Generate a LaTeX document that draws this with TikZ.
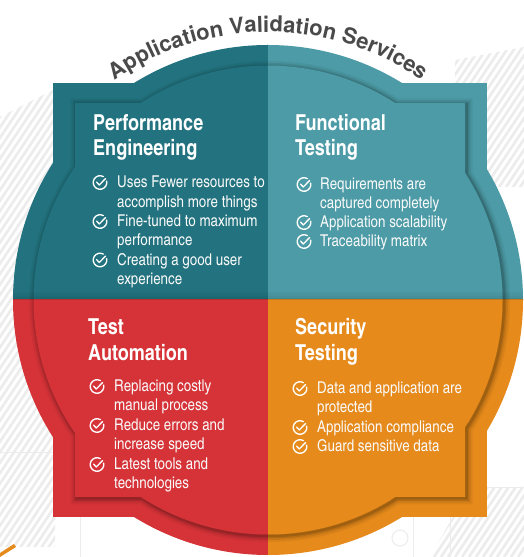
\documentclass[tikz,border=0pt]{standalone}
\usepackage{fontspec}
\setmainfont{texgyreheroscn}[Extension=.otf,UprightFont=*-regular,BoldFont=*-bold]
\newfontfamily\arcfont{texgyreheros}[Extension=.otf,UprightFont=*-bold]
\usetikzlibrary{decorations.text}
\definecolor{perfc}{RGB}{34,115,127}
\definecolor{funcc}{RGB}{76,155,166}
\definecolor{autoc}{RGB}{214,51,56}
\definecolor{secuc}{RGB}{229,138,27}
\definecolor{titlegray}{RGB}{74,74,74}
\definecolor{bgline}{RGB}{236,236,236}
\newcommand\drawquad[2]{%
  \begin{scope}
    \clip #1;
    \fill[#2] (268,257) circle[radius=255];
    \fill[#2] (53,40) rectangle (487,474);
    \foreach \w/\o in {12/0.05,8/0.07,5/0.09,2.5/0.12}
      \draw[black, opacity=\o, line width=\w pt, shift={(1.5,-1.5)}]
        (268,257) circle[radius=234.5] (75,60) rectangle (465,454);
    \fill[#2] (268,257) circle[radius=234.5];
    \fill[#2] (75,60) rectangle (465,454);
  \end{scope}}
\newcommand\hatchpatch[1]{%
  \begin{scope}
    \clip #1;
    \foreach \i in {-420,-413,...,560}
      \draw[bgline, line width=2.6pt] (\i,0) -- ++(372,557);
  \end{scope}}
\tikzset{
  ttl/.style={anchor=base west, inner sep=0pt, text=white,
    font=\fontsize{22}{22}\selectfont\bfseries},
  itm/.style={anchor=base west, inner sep=0pt, text=white!96!gray,
    font=\fontsize{16.3}{16.3}\selectfont},
  chkline/.style={white, line width=1.35pt, line cap=round, line join=round},
  chk/.pic={
    \draw[chkline] (60:6.8) arc[start angle=60, end angle=372, radius=6.8];
    \draw[chkline] (-3.3,0.3) -- (-0.7,-2.5) -- (5.6,4.0);
  }
}
\begin{document}
\begin{tikzpicture}[x=1pt,y=1pt]
\useasboundingbox (0,0) rectangle (524,557);
\fill[white] (0,0) rectangle (524,557);
% background decoration
\hatchpatch{(0,440) -- (55,468) -- (55,10) -- (0,10) -- cycle}
\hatchpatch{(455,497) -- (524,510) -- (524,370) -- (455,370) -- cycle}
\hatchpatch{(470,70) -- (524,70) -- (524,0) -- (430,0) -- cycle}
\draw[bgline, line width=0.8pt] (80,0) -- (80,120) (0,105) -- (80,105)
  (413,0) -- (413,70) (450,0) -- (450,70) (360,70) -- (524,70);
\draw[bgline, line width=1pt] (400,19) circle[radius=8];
\fill[secuc] (0,4) -- (14,13) -- (16,10) -- (0,0) -- cycle;
\begin{scope}
\clip (0,0) rectangle (524,557);
\drawquad{(0,257) rectangle (268,557)}{perfc}
\drawquad{(268,257) rectangle (524,557)}{funcc}
\drawquad{(0,0) rectangle (268,257)}{autoc}
\drawquad{(268,0) rectangle (524,257)}{secuc}
% shadow under the upper half
\begin{scope}
  \clip (268,257) circle[radius=255];
  \clip (0,257) rectangle (524,280);
  \foreach \d/\o in {0/0.12,2/0.08,4/0.05,6/0.03}
    \fill[black, opacity=\o] (0,257+\d) rectangle (524,259+\d);
\end{scope}
\end{scope}
% arc title
\path[decorate, decoration={text along path, text align=center,
  text color=titlegray,
  text={|\fontsize{22}{22}\selectfont\arcfont|Application Validation Services}}]
  (268,257) ++(134:268) arc[start angle=134, end angle=46, radius=268];
% Performance Engineering
\node[ttl] (pe1) at (93,426) {Performance};
\node[ttl] (pe2) at (93,401) {Engineering};
\node[itm] (pa1) at (117,369) {Uses Fewer resources to};
\node[itm] (pa2) at (117,349.5) {accomplish more things};
\node[itm] (pb1) at (117,330) {Fine-tuned to maximum};
\node[itm] (pb2) at (117,311) {performance};
\node[itm] (pc1) at (117,291.5) {Creating a good user};
\node[itm] (pc2) at (117,272) {experience};
\pic at (100,374.5) {chk};
\pic at (100,335.5) {chk};
\pic at (100,297) {chk};
% Functional Testing
\node[ttl] (fe1) at (295,426) {Functional};
\node[ttl] (fe2) at (295,401) {Testing};
\node[itm] (fa1) at (320,367) {Requirements are};
\node[itm] (fa2) at (320,348) {captured completely};
\node[itm] (fb1) at (320,329) {Application scalability};
\node[itm] (fc1) at (320,310) {Traceability matrix};
\pic at (304,372.5) {chk};
\pic at (304,334.5) {chk};
\pic at (304,315.5) {chk};
% Test Automation
\node[ttl] (te1) at (88,222) {Test};
\node[ttl] (te2) at (88,196) {Automation};
\node[itm] (ta1) at (114,165) {Replacing costly};
\node[itm] (ta2) at (114,146) {manual process};
\node[itm] (tb1) at (114,126) {Reduce errors and};
\node[itm] (tb2) at (114,107) {increase speed};
\node[itm] (tc1) at (114,87) {Latest tools and};
\node[itm] (tc2) at (114,68) {technologies};
\pic at (97,170.5) {chk};
\pic at (97,131.5) {chk};
\pic at (97,92.5) {chk};
% Security Testing
\node[ttl] (se1) at (295,222) {Security};
\node[ttl] (se2) at (295,196) {Testing};
\node[itm] (sa1) at (317,163) {Data and application are};
\node[itm] (sa2) at (317,144) {protected};
\node[itm] (sb1) at (317,124) {Application compliance};
\node[itm] (sc1) at (317,105) {Guard sensitive data};
\pic at (300,168.5) {chk};
\pic at (300,129.5) {chk};
\pic at (300,110.5) {chk};
\end{tikzpicture}
\end{document}
